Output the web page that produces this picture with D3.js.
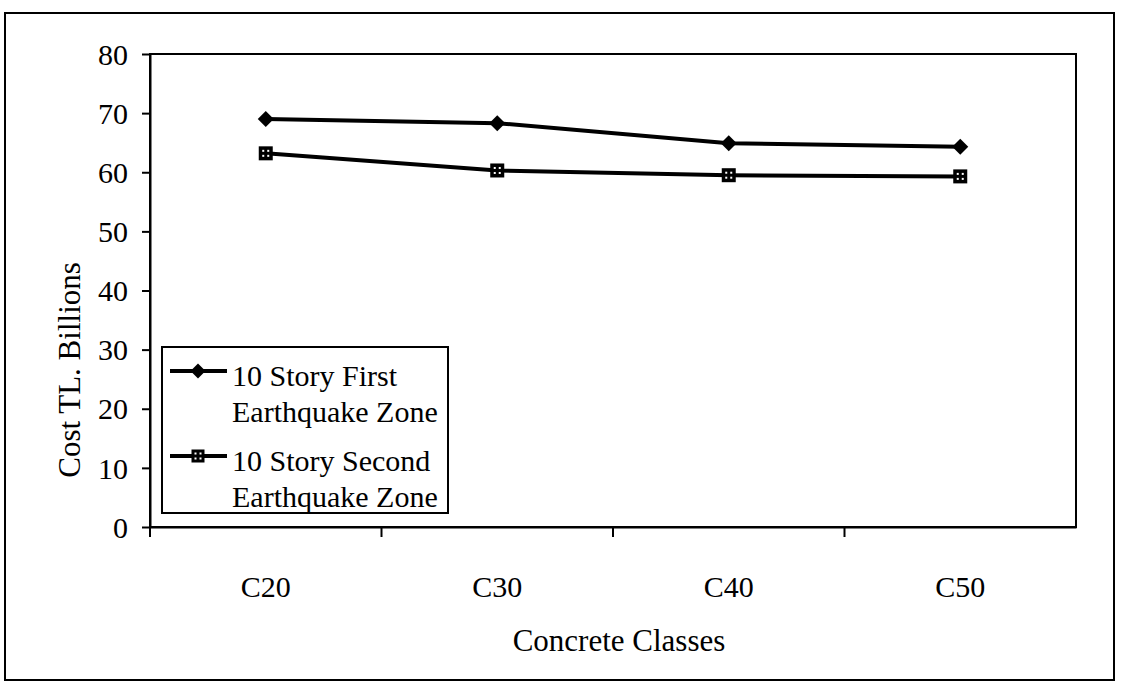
<!DOCTYPE html>
<html>
<head>
<meta charset="utf-8">
<script src="https://cdn.jsdelivr.net/npm/d3@7"></script>
<style>
  html, body { margin: 0; padding: 0; background: #fff; }
  svg { display: block; }
  text { font-family: "Liberation Serif", "Times New Roman", serif; fill: #000; }
</style>
</head>
<body>
<svg id="chart" width="1124" height="700"></svg>
<script>
// Concrete classes on the x axis
const categories = ["C20", "C30", "C40", "C50"];
// Cost in TL billions for each earthquake zone
const firstZone  = [69.0, 68.3, 64.9, 64.3];
const secondZone = [63.2, 60.3, 59.5, 59.3];
const seriesNames = [
  ["10 Story First", "Earthquake Zone"],
  ["10 Story Second", "Earthquake Zone"]
];
const yTicks = [0, 10, 20, 30, 40, 50, 60, 70, 80];

const svg = d3.select("#chart");
const FONT = 30;

// outer frame
svg.append("rect")
  .attr("x", 5).attr("y", 13).attr("width", 1109).attr("height", 667)
  .attr("fill", "none").attr("stroke", "#000").attr("stroke-width", 2);

const plot = { left: 150, right: 1076, top: 54, bottom: 527 };

const x = d3.scaleBand().domain(categories).range([plot.left, plot.right]).padding(0);
const y = d3.scaleLinear().domain([0, 80]).range([plot.bottom, plot.top]);

// plot border
svg.append("rect")
  .attr("x", plot.left).attr("y", plot.top)
  .attr("width", plot.right - plot.left).attr("height", plot.bottom - plot.top)
  .attr("fill", "none").attr("stroke", "#000").attr("stroke-width", 2);

// y axis
const yAxis = svg.append("g")
  .attr("transform", `translate(${plot.left},0)`)
  .call(d3.axisLeft(y).tickValues(yTicks).tickSize(8).tickPadding(14).tickSizeOuter(0));
yAxis.select(".domain").attr("stroke-width", 2);
yAxis.selectAll(".tick line").attr("stroke-width", 2);
yAxis.selectAll(".tick text")
  .attr("font-size", FONT).attr("font-family", "Liberation Serif").attr("dy", "0.34em");

// x axis: labels at band centres, tick marks at band boundaries
const xAxis = svg.append("g")
  .attr("transform", `translate(0,${plot.bottom})`)
  .call(d3.axisBottom(x).tickSize(0).tickSizeOuter(0));
xAxis.select(".domain").attr("stroke-width", 2);
xAxis.selectAll(".tick text")
  .attr("font-size", FONT).attr("font-family", "Liberation Serif")
  .attr("y", 70).attr("dy", 0);
xAxis.selectAll(".boundary")
  .data(categories)
  .join("line")
  .attr("class", "boundary")
  .attr("x1", d => x(d)).attr("x2", d => x(d))
  .attr("y1", 0).attr("y2", 10)
  .attr("stroke", "#000").attr("stroke-width", 2);

// axis titles
svg.append("text")
  .attr("x", (plot.left + plot.right) / 2 + 6).attr("y", 651)
  .attr("text-anchor", "middle").attr("font-size", FONT + 1)
  .text("Concrete Classes");
svg.append("text")
  .attr("transform", `translate(80,${370}) rotate(-90)`)
  .attr("text-anchor", "middle").attr("font-size", FONT + 1)
  .text("Cost TL. Billions");

// series
const line = d3.line().x((d, i) => x(categories[i]) + x.bandwidth() / 2).y(d => y(d));

function diamond(g, cx, cy, r) {
  g.append("path")
    .attr("d", `M${cx},${cy - r}L${cx + r},${cy}L${cx},${cy + r}L${cx - r},${cy}Z`)
    .attr("fill", "#000");
}
function squareMark(g, cx, cy, s) {
  g.append("rect")
    .attr("x", cx - s / 2).attr("y", cy - s / 2).attr("width", s).attr("height", s)
    .attr("fill", "#000");
  [[-2.5, -2.5], [2.5, -2.5], [-2.5, 2.5], [2.5, 2.5]].forEach(([dx, dy]) => {
    g.append("rect")
      .attr("x", cx + dx - 1).attr("y", cy + dy - 1).attr("width", 2).attr("height", 2)
      .attr("fill", "#fff");
  });
}

const gSeries = svg.append("g");
gSeries.append("path").datum(firstZone).attr("d", line)
  .attr("fill", "none").attr("stroke", "#000").attr("stroke-width", 4);
gSeries.append("path").datum(secondZone).attr("d", line)
  .attr("fill", "none").attr("stroke", "#000").attr("stroke-width", 4);
firstZone.forEach((v, i) => diamond(gSeries, x(categories[i]) + x.bandwidth() / 2, y(v), 8));
secondZone.forEach((v, i) => squareMark(gSeries, x(categories[i]) + x.bandwidth() / 2, y(v), 14));

// legend
const legend = svg.append("g");
legend.append("rect")
  .attr("x", 162).attr("y", 347).attr("width", 286).attr("height", 166)
  .attr("fill", "#fff").attr("stroke", "#000").attr("stroke-width", 2);
const rows = [371, 456];
rows.forEach((ry, k) => {
  legend.append("line")
    .attr("x1", 170).attr("x2", 227).attr("y1", ry).attr("y2", ry)
    .attr("stroke", "#000").attr("stroke-width", 4);
  if (k === 0) diamond(legend, 198, ry, 7.5);
  else squareMark(legend, 198, ry, 13);
  seriesNames[k].forEach((t, j) => {
    legend.append("text")
      .attr("x", 232).attr("y", ry + 15 + j * 36)
      .attr("font-size", FONT).text(t);
  });
});
</script>
</body>
</html>
